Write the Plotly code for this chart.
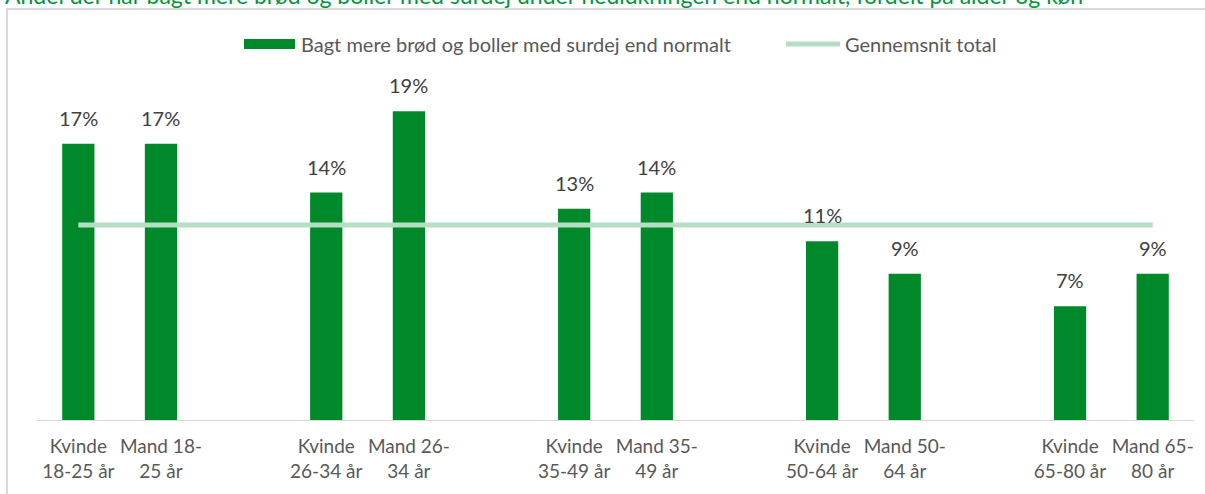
import plotly.graph_objects as go

# ---- data ----
categories = ["Kvinde<br>18-25 år", "Mand 18-<br>25 år", "",
              "Kvinde<br>26-34 år", "Mand 26-<br>34 år", "",
              "Kvinde<br>35-49 år", "Mand 35-<br>49 år", "",
              "Kvinde<br>50-64 år", "Mand 50-<br>64 år", "",
              "Kvinde<br>65-80 år", "Mand 65-<br>80 år"]
values = [17, 17, None, 14, 19, None, 13, 14, None, 11, 9, None, 7, 9]
average_total = 12
series_name = "Bagt mere brød og boller med surdej end normalt"
avg_name = "Gennemsnit total"
title_text = ("Andel der har bagt mere brød og boller med surdej under nedlukningen "
              "end normalt, fordelt på alder og køn")

# ---- layout constants (pixels) ----
W, H = 1205, 494
ML, MR, MT, MB = 37, 11, 95, 74
PW, PH = W - ML - MR, H - MT - MB
YMAX = 20

def px_x(p):
    return (p - ML) / PW

def px_y(p):
    return (H - MB - p) / PH

BAR = "#00892B"
AVG = "#B4DFC3"
TXT = "#595959"
FONT = "Lato"

x_idx = list(range(len(categories)))
bar_x = [i for i, v in zip(x_idx, values) if v is not None]
bar_y = [v for v in values if v is not None]

fig = go.Figure()
fig.add_trace(go.Bar(
    x=bar_x, y=bar_y, width=0.39, marker=dict(color=BAR, line=dict(width=0)),
    name=series_name, showlegend=False, hoverinfo="y"))
fig.add_trace(go.Scatter(
    x=[x_idx[0], x_idx[-1]], y=[average_total, average_total], mode="lines",
    line=dict(color=AVG, width=5), name=avg_name, showlegend=False))

annotations = []
for xi, v in zip(bar_x, bar_y):
    annotations.append(dict(x=xi, y=v, xref="x", yref="y", text=f"{v}%",
                            showarrow=False, yanchor="bottom", yshift=12,
                            font=dict(family=FONT, size=20, color="#404040")))

# title (clipped at the top of the page, as in the original)
annotations.append(dict(x=px_x(3), y=px_y(11), xref="paper", yref="paper",
                        text=title_text, showarrow=False, xanchor="left",
                        yanchor="bottom",
                        font=dict(family=FONT, size=23, color="#00963C")))
# custom legend
annotations.append(dict(x=px_x(299), y=px_y(44), xref="paper", yref="paper",
                        text=series_name, showarrow=False, xanchor="left",
                        yanchor="middle",
                        font=dict(family=FONT, size=20, color=TXT)))
annotations.append(dict(x=px_x(843), y=px_y(44), xref="paper", yref="paper",
                        text=avg_name, showarrow=False, xanchor="left",
                        yanchor="middle",
                        font=dict(family=FONT, size=20, color=TXT)))

shapes = [
    # chart frame
    dict(type="rect", xref="paper", yref="paper",
         x0=px_x(7), x1=px_x(1212), y0=px_y(500), y1=px_y(9),
         line=dict(color="#D9D9D9", width=2), fillcolor="rgba(0,0,0,0)", layer="below"),
    # legend markers
    dict(type="rect", xref="paper", yref="paper",
         x0=px_x(244), x1=px_x(295), y0=px_y(49), y1=px_y(39),
         line=dict(width=0), fillcolor=BAR),
    dict(type="line", xref="paper", yref="paper",
         x0=px_x(786), x1=px_x(840), y0=px_y(44), y1=px_y(44),
         line=dict(color=AVG, width=5)),
]

fig.update_layout(
    width=W, height=H, autosize=False,
    margin=dict(l=ML, r=MR, t=MT, b=MB, autoexpand=False),
    paper_bgcolor="white", plot_bgcolor="white",
    showlegend=False,
    annotations=annotations, shapes=shapes,
    font=dict(family=FONT, color=TXT),
    xaxis=dict(range=[-0.5, len(categories) - 0.5], tickmode="array",
               tickvals=x_idx, ticktext=categories, showgrid=False,
               zeroline=False, showline=True, linecolor="#D9D9D9", linewidth=1,
               ticks="", tickangle=0, automargin=False, ticklabelstandoff=9,
               tickfont=dict(family=FONT, size=19, color=TXT),
               fixedrange=True),
    yaxis=dict(range=[0, YMAX], visible=False, showgrid=False, zeroline=False,
               automargin=False, fixedrange=True),
)

fig.write_html("out.html",
               config={"displayModeBar": False},
               post_script="document.body.style.margin='0';"
                           "document.body.style.overflow='hidden';")
